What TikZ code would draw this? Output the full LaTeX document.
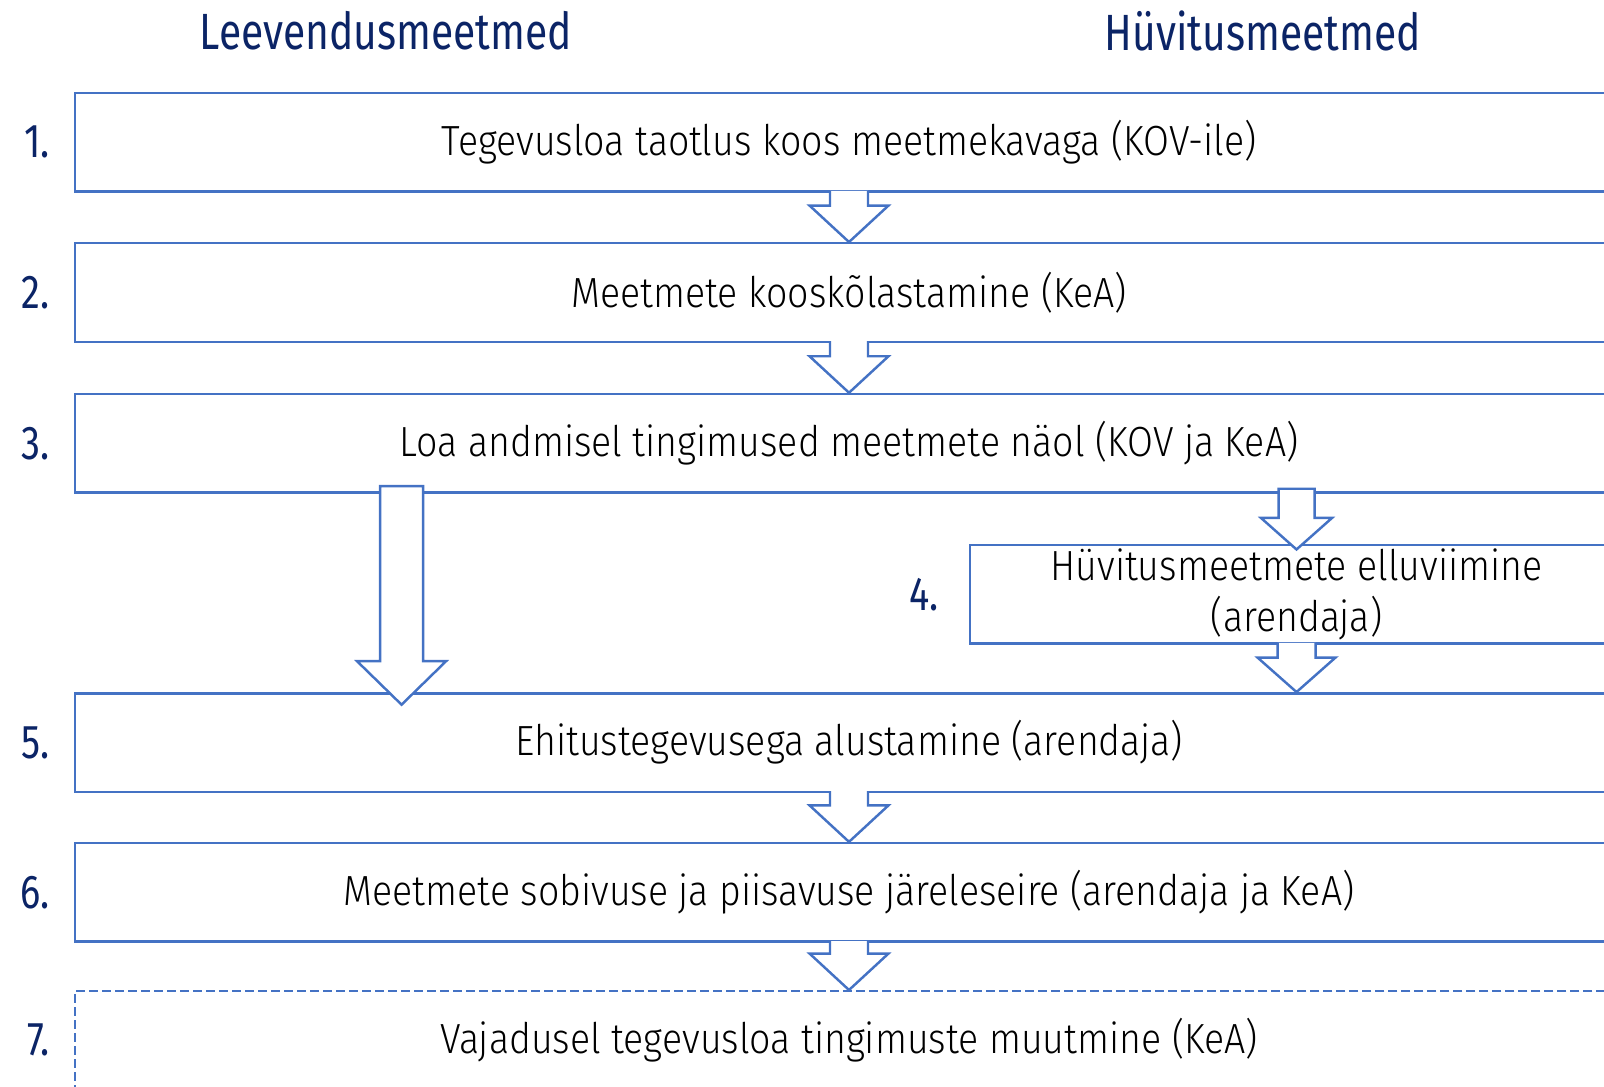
\documentclass[tikz,border=0pt]{standalone}
\usepackage{fontspec}
\setmainfont{Fira Sans Light}[FakeStretch=0.89]
\newfontfamily\headfont{Fira Sans}[FakeStretch=0.80]
\usetikzlibrary{calc,positioning}
\definecolor{boxblue}{HTML}{4472C4}
\definecolor{navy}{HTML}{0B2466}
\tikzstyle{box}=[draw=boxblue,line width=1.4pt,minimum width=30.96cm,minimum height=1.97cm,inner sep=0pt,align=center,font=\fontsize{24}{26}\selectfont]
\tikzstyle{num}=[text=navy,inner sep=0pt,font=\headfont\fontsize{27}{30}\selectfont]
\tikzstyle{blockarr}=[draw=boxblue,fill=white,line width=1.4pt,line join=miter]
% block arrow: [path end] {from} {tip} {shaft half} {head half} {head length}
\newcommand{\blkarrow}[6][]{%
  \filldraw[blockarr] let \p1=(#2), \p2=(#3) in
    (\x2-#4,\y1) -- (\x2-#4,\y2+#6) -- (\x2-#5,\y2+#6) -- (\x2,\y2)
    -- (\x2+#5,\y2+#6) -- (\x2+#4,\y2+#6) -- (\x2+#4,\y1) #1;}

\begin{document}
\begin{tikzpicture}[x=0.02cm,y=-0.02cm]
	\path[use as bounding box] (0,0) rectangle (1604,1086);
	\clip (0,0) rectangle (1604,1086);
	\node[text=navy,font=\headfont\fontsize{29}{32}\selectfont] (lee) at (386,31) {Leevendusmeetmed};
	\node[text=navy,font=\headfont\fontsize{29}{32}\selectfont] (hyv) at (1263,31) {Hüvitusmeetmed};
	\node[box] (b1) at (849,142.2) {Tegevusloa taotlus koos meetmekavaga (KOV-ile)};
	\node[box] (b2) at (849,292.5) {Meetmete kooskõlastamine (KeA)};
	\node[box] (b3) at (849,443.2) {Loa andmisel tingimused meetmete näol (KOV ja KeA)};
	\node[box,minimum width=13.06cm,minimum height=1.966cm] (b4) at (1296.5,594.2) {Hüvitusmeetmete elluviimine\\[3pt](arendaja)};
	\node[box] (b5) at (849,742.5) {Ehitustegevusega alustamine (arendaja)};
	\node[box] (b6) at (849,892.3) {Meetmete sobivuse ja piisavuse järeleseire (arendaja ja KeA)};
	\node[box,line width=1.1pt,dash pattern=on 0.18cm off 0.08cm] (b7) at (849,1040.2) {Vajadusel tegevusloa tingimuste muutmine (KeA)};
	\node[num,left=0.48cm of b1.west] (n1) {1.};
	\node[num,left=0.48cm of b2.west] (n2) {2.};
	\node[num,left=0.48cm of b3.west] (n3) {3.};
	\node[num,left=0.6cm of b4.west] (n4) {4.};
	\node[num,left=0.48cm of b5.west] (n5) {5.};
	\node[num,left=0.48cm of b6.west] (n6) {6.};
	\node[num,left=0.48cm of b7.west] (n7) {7.};
	\coordinate (t4) at (b3.south -| b4.north);
	\coordinate (h5) at (b4.south |- b5.north);
	\coordinate (t5) at ([xshift=6.554cm]b3.south west);
	\coordinate (l5) at (t5 |- b5.north);
	\blkarrow{[yshift=1pt]b1.south}{b2.north}{0.38cm}{0.79cm}{0.73cm}
	\blkarrow{[yshift=1pt]b2.south}{b3.north}{0.38cm}{0.79cm}{0.73cm}
	\blkarrow[-- cycle]{[yshift=2.8pt]t4}{[yshift=-3.2pt]b4.north}{0.36cm}{0.71cm}{0.63cm}
	\blkarrow{[yshift=1pt]b4.south}{h5}{0.38cm}{0.78cm}{0.69cm}
	\blkarrow[-- cycle]{[yshift=4.3pt]t5}{[yshift=-7.2pt]l5}{0.43cm}{0.89cm}{0.87cm}
	\blkarrow{[yshift=1pt]b5.south}{b6.north}{0.38cm}{0.79cm}{0.73cm}
	\blkarrow{[yshift=1pt]b6.south}{b7.north}{0.38cm}{0.79cm}{0.73cm}
\end{tikzpicture}
\end{document}
